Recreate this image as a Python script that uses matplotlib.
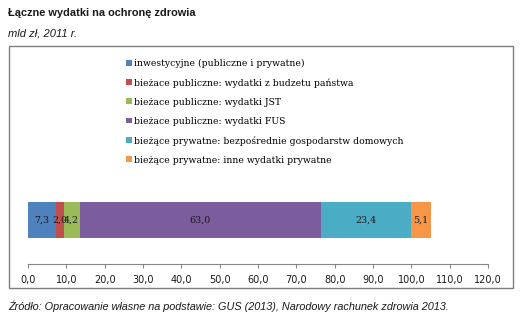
import matplotlib
matplotlib.use("Agg")
import matplotlib.pyplot as plt
from matplotlib.patches import Rectangle, Patch

categories = [
    "inwestycyjne (publiczne i prywatne)",
    "bieżace publiczne: wydatki z budzetu państwa",
    "bieżace publiczne: wydatki JST",
    "bieżace publiczne: wydatki FUS",
    "bieżące prywatne: bezpośrednie gospodarstw domowych",
    "bieżące prywatne: inne wydatki prywatne",
]
values = [7.3, 2.0, 4.2, 63.0, 23.4, 5.1]
colors = ["#4F81BD", "#C0504D", "#9BBB59", "#7B5C9C", "#4BACC6", "#F79646"]
xticks = [0, 10, 20, 30, 40, 50, 60, 70, 80, 90, 100, 110, 120]

W, H = 528, 333
fig = plt.figure(figsize=(W / 100, H / 100), dpi=100)

def fx(px):
    return px / W

def fy(py):
    return 1 - py / H

# frame
fig.patches.append(Rectangle((fx(9), fy(288)), fx(513) - fx(9), fy(46) - fy(288),
                             transform=fig.transFigure, fill=False,
                             edgecolor="#7f7f7f", linewidth=1.0))

fig.text(fx(8), fy(13), "Łączne wydatki na ochronę zdrowia", fontsize=7.9,
         fontweight="bold", family="Liberation Sans", va="center", ha="left", color="#1a1a1a")
fig.text(fx(8), fy(34), "mld zł, 2011 r.", fontsize=8, style="italic",
         family="Liberation Sans", va="center", ha="left", color="#1a1a1a")
fig.text(fx(8), fy(306), "Źródło: Opracowanie własne na podstawie: GUS (2013), Narodowy rachunek zdrowia 2013.",
         fontsize=7.8, style="italic", family="Liberation Sans", va="center", ha="left", color="#1a1a1a")

ax = fig.add_axes([fx(28), fy(264), fx(488) - fx(28), fy(50) - fy(264)])
left = 0.0
for v, c in zip(values, colors):
    ax.barh(0, v, left=left, height=0.8, color=c, edgecolor="none")
    ax.text(left + v / 2, 0, f"{v:.1f}".replace(".", ","), ha="center", va="center",
            fontsize=6.8, family="DejaVu Serif", color="#1a1a1a")
    left += v

ax.set_xlim(0, 120)
ax.set_ylim(-0.978, 3.78)
ax.set_xticks(xticks)
ax.set_xticklabels([f"{t:.1f}".replace(".", ",") for t in xticks], fontsize=7,
                   family="DejaVu Sans", color="#1a1a1a")
ax.set_yticks([])
for s in ["top", "right", "left"]:
    ax.spines[s].set_visible(False)
ax.spines["bottom"].set_color("#868686")
ax.tick_params(axis="x", colors="#868686", length=3, width=0.8, pad=5, labelcolor="#1a1a1a")
ax.patch.set_visible(False)

handles = [Patch(facecolor=c, edgecolor="none") for c in colors]
leg = fig.legend(handles, categories, loc="upper left", bbox_to_anchor=(fx(126), fy(59)),
                 frameon=False, prop={"family": "DejaVu Serif", "size": 6.7},
                 handlelength=0.6, handleheight=0.6, handletextpad=0.3,
                 labelspacing=1.08, borderaxespad=0, borderpad=0)

fig.savefig("out.png", dpi=100)
